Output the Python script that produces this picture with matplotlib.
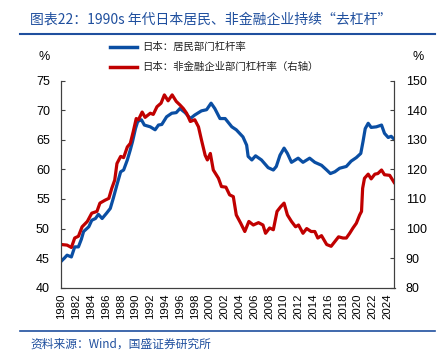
import matplotlib
matplotlib.use("Agg")
import matplotlib.pyplot as plt
from matplotlib.lines import Line2D

plt.rcParams['font.family'] = ['Liberation Sans', 'Noto Sans CJK SC', 'DejaVu Sans']

# Household leverage (left axis, %)
hh_years = [1980.0, 1980.4, 1980.77, 1981.35, 1981.8, 1982.3, 1982.7, 1983.0, 1983.7, 1984.1,
            1984.6, 1985.0, 1985.5, 1986.1, 1986.6, 1987.0, 1987.5, 1988.0, 1988.4, 1988.9,
            1989.3, 1989.6, 1990.0, 1990.3, 1990.8, 1991.2, 1992.0, 1992.65, 1993.1, 1993.55,
            1994.2, 1994.9, 1995.5, 1996.0, 1996.7, 1997.4, 1998.0, 1998.9, 1999.6, 2000.2,
            2000.7, 2001.4, 2002.1, 2003.0, 2003.6, 2004.5, 2005.0, 2005.2, 2005.7, 2006.2,
            2007.0, 2007.9, 2008.6, 2009.0, 2009.5, 2010.05, 2010.5, 2011.05, 2011.95, 2012.6,
            2013.5, 2014.2, 2015.1, 2015.8, 2016.3, 2016.9, 2017.55, 2018.45, 2019.1, 2019.8,
            2020.4, 2020.7, 2021.0, 2021.4, 2021.8, 2022.5, 2023.2, 2023.6, 2024.1, 2024.5, 2024.9]
hh_values = [44.5, 45.0, 45.5, 45.2, 46.9, 46.9, 48.2, 49.5, 50.3, 51.4,
             51.7, 52.4, 51.7, 52.6, 53.4, 55.1, 57.4, 59.6, 59.9, 61.6,
             63.3, 64.7, 66.9, 68.1, 68.4, 67.5, 67.2, 66.7, 67.5, 67.6,
             68.9, 69.5, 69.6, 70.3, 69.6, 68.6, 69.2, 69.9, 70.1, 71.2,
             70.3, 68.6, 68.6, 67.2, 66.7, 65.5, 64.1, 62.2, 61.6, 62.3,
             61.6, 60.3, 59.9, 60.5, 62.4, 63.6, 62.7, 61.2, 61.9, 61.2,
             61.9, 61.2, 60.7, 59.9, 59.3, 59.6, 60.2, 60.5, 61.4, 62.0,
             62.7, 64.7, 66.9, 67.8, 67.1, 67.2, 67.5, 66.1, 65.4, 65.6, 65.1]

# Non-financial corporate leverage (right axis, %)
nf_years = [1980.0, 1980.77, 1981.35, 1981.8, 1982.3, 1982.8, 1983.5, 1984.1, 1984.8, 1985.2,
            1985.9, 1986.4, 1986.8, 1987.2, 1987.5, 1988.0, 1988.4, 1988.9, 1989.3, 1989.7,
            1990.1, 1990.4, 1990.9, 1991.3, 1992.0, 1992.4, 1992.9, 1993.45, 1993.9, 1994.4,
            1994.95, 1995.5, 1996.0, 1996.45, 1996.9, 1997.4, 1998.0, 1998.5, 1998.9, 1999.4,
            1999.7, 2000.1, 2000.5, 2001.2, 2001.6, 2002.2, 2002.7, 2003.2, 2003.6, 2004.2,
            2004.75, 2005.3, 2005.9, 2006.6, 2007.2, 2007.55, 2008.1, 2008.6, 2009.1, 2009.6,
            2010.05, 2010.5, 2011.05, 2011.6, 2012.0, 2012.6, 2013.1, 2013.7, 2014.2, 2014.6,
            2015.1, 2015.8, 2016.4, 2016.9, 2017.4, 2018.0, 2018.45, 2018.9, 2019.35, 2019.8,
            2020.25, 2020.5, 2020.65, 2020.9, 2021.4, 2021.8, 2022.3, 2022.7, 2023.2, 2023.6,
            2024.3, 2024.9]
nf_values = [94.6, 94.4, 93.6, 96.8, 97.4, 100.6, 102.4, 105.2, 105.8, 108.6,
             109.6, 110.2, 113.6, 116.4, 122.0, 124.4, 124.0, 127.6, 128.8, 132.8,
             137.2, 136.8, 139.4, 137.6, 139.0, 138.6, 141.2, 142.4, 145.2, 143.2,
             145.2, 143.0, 141.8, 140.6, 139.0, 136.2, 136.8, 134.4, 130.0, 124.8,
             123.2, 125.4, 119.8, 117.0, 114.2, 114.0, 111.4, 110.8, 104.6, 101.8,
             99.0, 102.4, 101.2, 102.0, 101.2, 98.4, 100.2, 99.6, 105.8, 107.4,
             108.6, 104.6, 102.4, 100.6, 101.2, 98.4, 100.0, 99.0, 99.0, 96.8,
             97.6, 94.6, 94.0, 95.6, 97.2, 96.8, 96.8, 98.4, 100.2, 101.8,
             104.6, 105.8, 113.6, 117.0, 118.4, 116.8, 118.4, 118.6, 119.8, 118.2,
             118.0, 115.6]

x_ticks = list(range(1980, 2025, 2))
left_ticks = [40, 45, 50, 55, 60, 65, 70, 75]
right_ticks = [80, 90, 100, 110, 120, 130, 140, 150]

title = "图表22：1990s 年代日本居民、非金融企业持续“去杠杆”"
source = "资料来源：Wind，国盛证券研究所"
label_hh = "日本：居民部门杠杆率"
label_nf = "日本：非金融企业部门杠杆率（右轴）"

BLUE = "#0a4ea3"
RED = "#c00000"
TITLE_BLUE = "#1f4f9e"

fig = plt.figure(figsize=(4.39, 3.58), dpi=100)
ax = fig.add_axes([61/439, 1-287.7/358, (394.5-61)/439, (287.7-80.7)/358])
ax2 = ax.twinx()

ax.plot(hh_years, hh_values, color=BLUE, lw=2.3, solid_joinstyle='round')
ax2.plot(nf_years, nf_values, color=RED, lw=2.3, solid_joinstyle='round')

ax.set_xlim(1979.95, 2024.95)
ax.set_ylim(40, 75)
ax2.set_ylim(80, 150)
ax.set_xticks(x_ticks)
ax.set_xticklabels([str(t) for t in x_ticks], rotation=90, fontsize=8.2)
ax.set_yticks(left_ticks)
ax.set_yticklabels([str(t) for t in left_ticks], fontsize=9)
ax2.set_yticks(right_ticks)
ax2.set_yticklabels([str(t) for t in right_ticks], fontsize=9)

for a in (ax, ax2):
    a.spines['top'].set_visible(False)
    for s in a.spines.values():
        s.set_color('#404040')
        s.set_linewidth(0.8)
ax.tick_params(axis='y', direction='in', length=3, width=0.8, colors='#404040', labelcolor='black', pad=8)
ax2.tick_params(axis='y', direction='in', length=3, width=0.8, colors='#404040', labelcolor='black', pad=8)
ax.tick_params(axis='x', direction='in', length=0, pad=4, labelcolor='black')

# % labels
fig.text(44/439, 1-57/358, "%", fontsize=9, ha='center', va='center')
fig.text(418/439, 1-57/358, "%", fontsize=9, ha='center', va='center')

# Legend (manual)
cjk = ['Noto Sans CJK SC', 'DejaVu Sans']
fig.add_artist(Line2D([110/439, 137/439], [1-47/358, 1-47/358], color=BLUE, lw=2.5, transform=fig.transFigure))
fig.text(142/439, 1-47/358, label_hh, fontsize=7.5, va='center', ha='left', family=cjk, color='#222222')
fig.add_artist(Line2D([110/439, 137/439], [1-67/358, 1-67/358], color=RED, lw=2.5, transform=fig.transFigure))
fig.text(142/439, 1-67/358, label_nf, fontsize=7.5, va='center', ha='left', family=cjk, color='#222222')

# Title and source
fig.text(30/439, 1-20/358, title, fontsize=10, color=TITLE_BLUE, va='center', ha='left', family=cjk, style='italic')
fig.add_artist(Line2D([20/439, 435/439], [1-33.5/358, 1-33.5/358], color=TITLE_BLUE, lw=1.5, transform=fig.transFigure))
fig.add_artist(Line2D([20/439, 435/439], [1-330.5/358, 1-330.5/358], color=TITLE_BLUE, lw=1.2, transform=fig.transFigure))
fig.text(30/439, 1-344/358, source, fontsize=8.5, color=TITLE_BLUE, va='center', ha='left', family=cjk, style='italic')

fig.savefig("out.png", dpi=100)
